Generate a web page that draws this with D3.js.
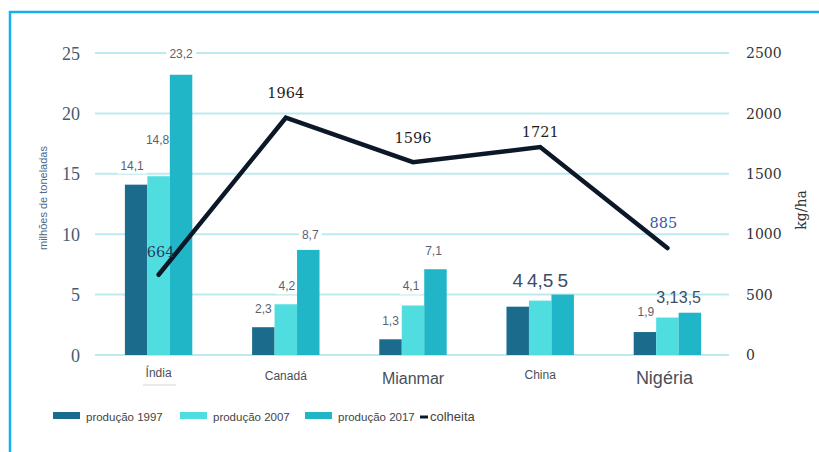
<!DOCTYPE html>
<html>
<head>
<meta charset="utf-8">
<script src="https://cdn.jsdelivr.net/npm/d3@7/dist/d3.min.js"></script>
<style>
  html, body { margin: 0; padding: 0; background: #ffffff; }
  svg { display: block; }
</style>
</head>
<body>
<svg id="chart" width="819" height="452"></svg>
<script>
// Produção de arroz (milhões de toneladas) e colheita (kg/ha)
const categories = ["Índia", "Canadá", "Mianmar", "China", "Nigéria"];
const producao1997 = [14.1, 2.3, 1.3, 4, 1.9];
const producao2007 = [14.8, 4.2, 4.1, 4.5, 3.1];
const producao2017 = [23.2, 8.7, 7.1, 5, 3.5];
const colheita = [664, 1964, 1596, 1721, 885];
const seriesNames = ["produção 1997", "produção 2007", "produção 2017"];
const leftTicks = [0, 5, 10, 15, 20, 25];
const rightTicks = [0, 500, 1000, 1500, 2000, 2500];

const colors = ["#1b6b8d", "#4fdde0", "#20b6c8"];
const lineColor = "#0c1828";
const fmt = v => String(v).replace(".", ",");
const sans = "Arial, 'Liberation Sans', sans-serif";

const svg = d3.select("#chart");
const W = 819, H = 452;
const plot = { left: 95, right: 731, top: 53, bottom: 355 };

// frame
svg.append("rect").attr("x", 0).attr("y", 0).attr("width", W).attr("height", H).attr("fill", "#fff");
svg.append("rect").attr("x", 10).attr("y", 12).attr("width", W).attr("height", H)
  .attr("fill", "none").attr("stroke", "#19aef0").attr("stroke-width", 2.5);

const x0 = d3.scaleBand().domain(categories).range([plot.left, plot.right])
  .paddingInner(0.47).paddingOuter(0.235);
const x1 = d3.scaleBand().domain(d3.range(3)).range([0, x0.bandwidth()]);
const yL = d3.scaleLinear().domain([0, 25]).range([plot.bottom, plot.top]);
const yR = d3.scaleLinear().domain([0, 2500]).range([plot.bottom, plot.top]);
const cxOf = (i, k) => x0(categories[i]) + x1(k) + x1.bandwidth() / 2;

// gridlines
svg.append("g").selectAll("line").data(leftTicks).join("line")
  .attr("x1", plot.left).attr("x2", plot.right - 2)
  .attr("y1", d => yL(d)).attr("y2", d => yL(d))
  .attr("stroke", "#bdeaee").attr("stroke-width", 2);

// white backing for value labels, kept under the bars
const labelBg = svg.append("g");

// left axis
const axL = svg.append("g").attr("transform", `translate(${plot.left - 15},0)`)
  .call(d3.axisLeft(yL).tickValues(leftTicks).tickSize(0).tickPadding(0));
axL.select(".domain").remove();
axL.selectAll("text").attr("font-family", "'Liberation Serif', serif").attr("font-size", 18)
  .attr("fill", "#4a5b6e").attr("dy", "0.34em");

// right axis
const axR = svg.append("g").attr("transform", `translate(${plot.left + 651},0)`)
  .call(d3.axisRight(yR).tickValues(rightTicks).tickFormat(d3.format("d")).tickSize(0).tickPadding(0));
axR.select(".domain").remove();
axR.selectAll("text").attr("font-family", "'DejaVu Serif', serif").attr("font-size", 14)
  .attr("fill", "#333").attr("dy", "0.34em");

// axis titles
svg.append("text").attr("transform", "translate(47,198) rotate(-90)")
  .attr("text-anchor", "middle").attr("font-family", sans)
  .attr("font-size", 11).attr("fill", "#4d6a8c").text("milhões de toneladas");
svg.append("text").attr("transform", "translate(806,210) rotate(-90)")
  .attr("text-anchor", "middle").attr("font-family", "'DejaVu Serif', serif")
  .attr("font-size", 14).attr("fill", "#333").text("kg/ha");

// bars
const series = [producao1997, producao2007, producao2017];
const groups = svg.append("g").selectAll("g").data(categories).join("g")
  .attr("transform", d => `translate(${x0(d)},0)`);
groups.selectAll("rect").data((c, i) => series.map((s, k) => ({ k, v: s[i] }))).join("rect")
  .attr("x", d => x1(d.k)).attr("width", x1.bandwidth())
  .attr("y", d => yL(d.v)).attr("height", d => yL(0) - yL(d.v))
  .attr("fill", d => colors[d.k]);

// bar value labels
const labelGroup = svg.append("g").attr("font-family", sans);
const smallLabel = (i, k, dx, dy) => {
  const v = series[k][i];
  const t = labelGroup.append("text").attr("x", cxOf(i, k) + dx).attr("y", yL(v) + dy)
    .attr("text-anchor", "middle").attr("font-size", 12)
    .attr("fill", "#5a6272").text(fmt(v));
  const bb = t.node().getBBox();
  labelBg.append("rect")
    .attr("x", bb.x - 3).attr("y", bb.y - 1).attr("width", bb.width + 6).attr("height", bb.height + 2)
    .attr("fill", "#fff");
};
// Índia, Canadá, Mianmar
smallLabel(0, 0, -4, -15); smallLabel(0, 1, -1, -32); smallLabel(0, 2, 0, -17);
smallLabel(1, 0, 0, -14); smallLabel(1, 1, 1, -14); smallLabel(1, 2, 2, -11);
smallLabel(2, 0, 0, -14); smallLabel(2, 1, -2, -15); smallLabel(2, 2, -2, -14);
smallLabel(4, 0, 1, -16);
// China: shared baseline above the tallest bar
const chinaTop = yL(d3.max(series, s => s[3]));
series.forEach((s, k) => {
  labelGroup.append("text").attr("x", cxOf(3, k)).attr("y", chinaTop - 8)
    .attr("text-anchor", "middle").attr("font-size", 19).attr("fill", "#3c4e66").text(fmt(s[3]));
});
// Nigéria: 2007 and 2017 side by side
[1, 2].forEach(k => {
  labelGroup.append("text").attr("x", cxOf(4, k)).attr("y", yL(series[2][4]) - 10)
    .attr("text-anchor", "middle").attr("font-size", 16).attr("fill", "#3c4e66").text(fmt(series[k][4]));
});

// colheita line
const lineGen = d3.line()
  .x((d, i) => x0(categories[i]) + x0.bandwidth() / 2)
  .y(d => yR(d));
svg.append("path").datum(colheita).attr("d", lineGen)
  .attr("fill", "none").attr("stroke", lineColor).attr("stroke-width", 4.5)
  .attr("stroke-linejoin", "miter").attr("stroke-linecap", "round");

// colheita labels
const lineLabelOff = [[2, -18], [0, -20], [0, -19], [0, -10], [-4, -20]];
const lineLabelCol = ["#2a3c58", "#1e1e1e", "#1e1e1e", "#1e1e1e", "#3a56a4"];
colheita.forEach((v, i) => {
  svg.append("text")
    .attr("x", x0(categories[i]) + x0.bandwidth() / 2 + lineLabelOff[i][0])
    .attr("y", yR(v) + lineLabelOff[i][1])
    .attr("text-anchor", "middle").attr("font-family", "'DejaVu Serif', serif")
    .attr("font-size", 14.5).attr("fill", lineLabelCol[i]).text(v);
});

// category labels
const catSize = [12, 12, 16, 12, 18];
const catY = [377, 380, 384, 379, 384];
categories.forEach((c, i) => {
  svg.append("text").attr("x", x0(c) + x0.bandwidth() / 2 + (i === 4 ? -3 : 0)).attr("y", catY[i])
    .attr("text-anchor", "middle").attr("font-family", sans)
    .attr("font-size", catSize[i]).attr("fill", "#4a4f58").text(c);
});
svg.append("line").attr("x1", 143).attr("x2", 176).attr("y1", 385).attr("y2", 385)
  .attr("stroke", "#ccd6dc").attr("stroke-width", 1);

// legend
const legend = svg.append("g").attr("font-family", sans).attr("fill", "#444");
const legX = [53, 180, 305];
seriesNames.forEach((n, k) => {
  legend.append("rect").attr("x", legX[k]).attr("y", 412).attr("width", 27).attr("height", 7)
    .attr("fill", colors[k]);
  legend.append("text").attr("x", legX[k] + 33).attr("y", 421).attr("font-size", 11.5).text(n);
});
legend.append("line").attr("x1", 420).attr("x2", 428).attr("y1", 417).attr("y2", 417)
  .attr("stroke", lineColor).attr("stroke-width", 3);
legend.append("text").attr("x", 430).attr("y", 421).attr("font-size", 13).text("colheita");
</script>
</body>
</html>
